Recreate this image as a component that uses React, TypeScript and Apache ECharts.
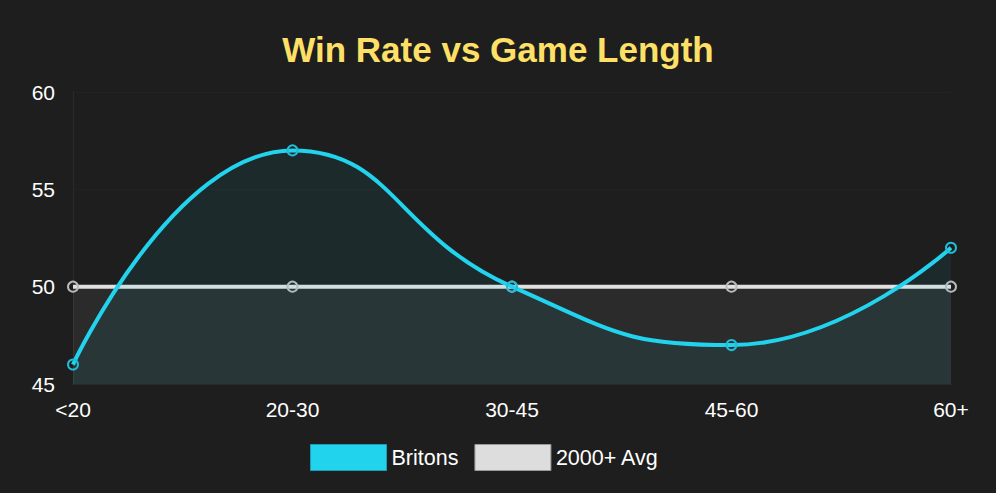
import React, { useEffect, useRef } from "react";
import * as echarts from "echarts";

const categories = ["<20", "20-30", "30-45", "45-60", "60+"];
const britons = [46, 57, 50, 47, 52];
const avg2000 = [50, 50, 50, 50, 50];
const yTicks = { min: 45, max: 60, interval: 5 };

const FONT = "Arial, Liberation Sans, sans-serif";

export default function App() {
  const ref = useRef<HTMLDivElement>(null);
  useEffect(() => {
    if (!ref.current) return;
    const chart = echarts.init(ref.current, null, { renderer: "svg" });
    chart.setOption({
      animation: false,
      backgroundColor: "#1e1e1e",
      title: {
        text: "Win Rate vs Game Length",
        left: "center",
        top: 27,
        textStyle: {
          color: "#ffe066",
          fontSize: 35,
          fontWeight: "bold",
          fontFamily: FONT,
        },
      },
      grid: { left: 73, right: 45, top: 92, bottom: 109, containLabel: false },
      legend: {
        bottom: 17,
        left: 305,
        itemWidth: 76,
        itemHeight: 26,
        itemGap: 16,
        icon: "rect",
        textStyle: { color: "#ffffff", fontSize: 21.5, fontFamily: FONT },
        data: [
          { name: "Britons", itemStyle: { color: "#22d3ee", borderColor: "#1a9fb5", borderWidth: 1 } },
          { name: "2000+ Avg", itemStyle: { color: "#dddddd", borderColor: "#999999", borderWidth: 1 } },
        ],
      },
      xAxis: {
        type: "category",
        data: categories,
        boundaryGap: false,
        axisLine: { show: true, lineStyle: { color: "#2a2a2a" } },
        axisTick: { show: false },
        axisLabel: { color: "#ffffff", fontSize: 21, margin: 15, fontFamily: FONT },
        splitLine: { show: false },
      },
      yAxis: {
        type: "value",
        min: yTicks.min,
        max: yTicks.max,
        interval: yTicks.interval,
        axisLine: { show: true, lineStyle: { color: "#2a2a2a" } },
        axisTick: { show: false },
        axisLabel: { color: "#ffffff", fontSize: 21, margin: 18, fontFamily: FONT },
        splitLine: { show: true, lineStyle: { color: "#222222" } },
      },
      series: [
        {
          name: "Britons",
          type: "line",
          data: britons,
          smooth: true,
          symbol: "circle",
          symbolSize: 10,
          itemStyle: { color: "rgba(0,0,0,0)", borderColor: "#22bcd6", borderWidth: 2 },
          lineStyle: { color: "#22d3ee", width: 4 },
          areaStyle: { color: "rgba(34,211,238,0.1)" },
          z: 3,
        },
        {
          name: "2000+ Avg",
          type: "line",
          data: avg2000,
          smooth: true,
          symbol: "circle",
          symbolSize: 10,
          itemStyle: { color: "rgba(0,0,0,0)", borderColor: "#bbbbbb", borderWidth: 2 },
          lineStyle: { color: "#e0e0e0", width: 4 },
          areaStyle: { color: "rgba(221,221,221,0.1)" },
          z: 2,
        },
      ],
    });
    return () => chart.dispose();
  }, []);
  return (
    <div
      ref={ref}
      style={{ position: "absolute", left: 0, top: 0, width: 996, height: 493 }}
    />
  );
}
